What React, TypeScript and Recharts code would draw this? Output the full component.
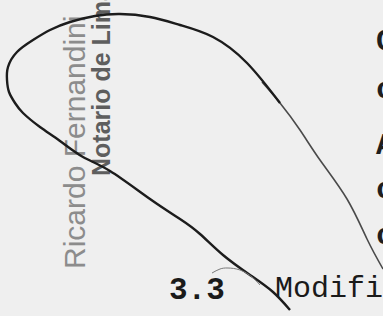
import React from 'react';
import { LineChart, Line, XAxis, YAxis } from 'recharts';

// signature stroke (x to the right, y downwards)
const upperX = [280, 247, 213, 180, 150, 120, 95, 70, 50, 33, 17, 8, 7, 9, 15, 23, 40, 60, 83, 110, 150, 180, 200, 223, 250, 273, 290];
const upperY = [103, 63, 37, 25, 17, 14, 16, 22, 30, 40, 52, 67, 80, 92, 103, 113, 127, 141, 157, 171, 199, 219, 234, 255, 275, 292, 310];
const tailX = [383, 367, 347, 320, 300, 280, 262];
const tailY = [269, 239, 199, 160, 130, 103, 82];
const hookX = [212, 220, 228, 240, 252, 260];
const hookY = [273, 269, 268, 270, 277, 285];

// typed lines cut off at the right edge
const edgeGlyphs = ['C', 'c', 'A', 'c', 'c'];
const edgeBaselines = [50, 98, 154, 198, 244];

const toPoints = (xs: number[], ys: number[]) => xs.map((x, i) => ({ x, y: ys[i] }));

const upper = toPoints(upperX, upperY);
const tail = toPoints(tailX, tailY);
const hook = toPoints(hookX, hookY);

const W = 383;
const H = 316;

export default function App() {
  return (
    <div style={{ position: 'absolute', left: 0, top: 0, width: W, height: H, background: '#efefef', overflow: 'hidden' }}>
      <svg width={W} height={H} style={{ position: 'absolute', left: 0, top: 0 }}>
        <text
          x={85}
          y={269}
          transform="rotate(-90 85 269)"
          fontFamily="'Liberation Sans', Arial, sans-serif"
          fontSize={30}
          fill="#8c8c8c"
        >
          Ricardo Fernandini
        </text>
        <text
          x={110}
          y={176}
          transform="rotate(-90 110 176)"
          fontFamily="'Liberation Sans', Arial, sans-serif"
          fontSize={25}
          fontWeight="bold"
          fill="#5e5e5e"
        >
          Notario de Lima
        </text>
        {edgeGlyphs.map((g, i) => (
          <text key={i} x={376} y={edgeBaselines[i]} fontFamily="'Liberation Mono', monospace" fontSize={30} fontWeight="bold" fill="#1e1e1e">
            {g}
          </text>
        ))}
        <text x={169} y={299} fontFamily="'Liberation Mono', monospace" fontSize={31} fontWeight="bold" fill="#1a1a1a">
          3.3
        </text>
        <text x={275} y={297} fontFamily="'Liberation Mono', monospace" fontSize={30} fill="#1a1a1a">
          Modifi
        </text>
      </svg>
      <div style={{ position: 'absolute', left: 0, top: 0 }}>
        <LineChart width={W} height={H} margin={{ top: 0, right: 0, bottom: 0, left: 0 }}>
          <XAxis type="number" dataKey="x" domain={[0, W]} hide allowDataOverflow />
          <YAxis type="number" dataKey="y" domain={[0, H]} reversed hide allowDataOverflow />
          <Line data={tail} dataKey="y" type="natural" stroke="#4a4a4a" strokeWidth={1.6} dot={false} activeDot={false} isAnimationActive={false} />
          <Line data={upper} dataKey="y" type="natural" stroke="#1c1c1c" strokeWidth={2.4} dot={false} activeDot={false} isAnimationActive={false} />
          <Line data={hook} dataKey="y" type="natural" stroke="#7a7a7a" strokeWidth={1} dot={false} activeDot={false} isAnimationActive={false} />
        </LineChart>
      </div>
    </div>
  );
}
